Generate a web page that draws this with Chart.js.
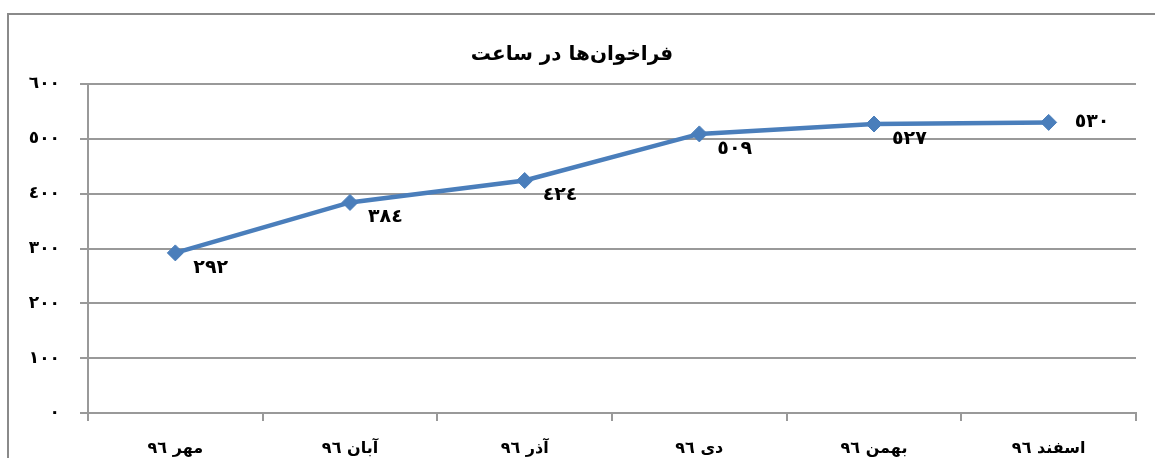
<!DOCTYPE html>
<html>
<head>
<meta charset="utf-8">
<script src="https://cdn.jsdelivr.net/npm/chart.js@4"></script>
<style>
html, body { margin: 0; padding: 0; background: #fff; overflow: hidden; }
#frame { position: absolute; left: 7px; top: 13px; width: 1200px; height: 500px;
  border-left: 2px solid #8a8a8a; border-top: 2px solid #8a8a8a; }
#lineChart { position: absolute; left: 8px; top: 14px; }
</style>
</head>
<body>
<div id="frame"></div>
<canvas id="lineChart" width="1140" height="470"></canvas>
<script>
const months = ['مهر ٩٦', 'آبان ٩٦', 'آذر ٩٦', 'دی ٩٦', 'بهمن ٩٦', 'اسفند ٩٦'];
const calls = [292, 384, 424, 509, 527, 530];
const yTicks = [0, 100, 200, 300, 400, 500, 600];

const font = '"DejaVu Sans", sans-serif';
const toArabic = n => String(n).replace(/\d/g, d => '٠١٢٣٤٥٦٧٨٩'[d]);

// labels next to each point
const pointLabels = {
    id: 'pointLabels',
    afterDatasetsDraw(chart) {
        const ctx = chart.ctx;
        const pts = chart.getDatasetMeta(0).data;
        ctx.save();
        ctx.font = 'bold 19px ' + font;
        ctx.fillStyle = '#000';
        ctx.textAlign = 'left';
        ctx.textBaseline = 'middle';
        pts.forEach((pt, i) => {
            const last = i === pts.length - 1;
            ctx.fillText(toArabic(calls[i]), pt.x + (last ? 26 : 18), pt.y + (last ? 0 : 15));
        });
        ctx.restore();
    }
};

const ctxline = document.getElementById('lineChart');
const linechart = new Chart(ctxline, {
    type: 'line',
    data: {
        labels: months,
        datasets: [{
            label: 'فراخوان‌ها در ساعت',
            data: calls,
            borderColor: '#4a7ebb',
            backgroundColor: '#4a7ebb',
            borderWidth: 4.5,
            tension: 0,
            pointStyle: 'rectRot',
            pointRadius: 8,
            pointBorderWidth: 1,
            pointBackgroundColor: '#4a7ebb',
            pointBorderColor: '#4a7ebb'
        }]
    },
    options: {
        responsive: false,
        animation: false,
        layout: {
            padding: { left: 0, right: 12, top: 0, bottom: 0 }
        },
        scales: {
            x: {
                offset: true,
                grid: {
                    offset: true,
                    drawOnChartArea: false,
                    tickLength: 8,
                    color: '#999',
                    lineWidth: 2
                },
                border: { color: '#999', width: 2 },
                ticks: {
                    color: '#000',
                    padding: 18,
                    maxRotation: 0,
                    font: { size: 16, weight: 'bold', family: font }
                },
                afterFit: scale => { scale.height = 71; }
            },
            y: {
                min: yTicks[0],
                max: yTicks[yTicks.length - 1],
                afterBuildTicks: scale => { scale.ticks = yTicks.map(v => ({ value: v })); },
                grid: {
                    tickLength: 8,
                    color: '#999',
                    lineWidth: 2
                },
                border: { color: '#999', width: 2 },
                ticks: {
                    color: '#000',
                    padding: 20,
                    font: { size: 17, weight: 'bold', family: font },
                    callback: v => toArabic(v)
                },
                afterFit: scale => { scale.width = 80; }
            }
        },
        plugins: {
            legend: { display: false },
            tooltip: { enabled: false },
            title: {
                display: true,
                text: 'فراخوان‌ها در ساعت',
                color: '#000',
                font: { size: 20, weight: 'bold', family: font },
                padding: { top: 29, bottom: 17 }
            }
        }
    },
    plugins: [pointLabels]
});
</script>
</body>
</html>
